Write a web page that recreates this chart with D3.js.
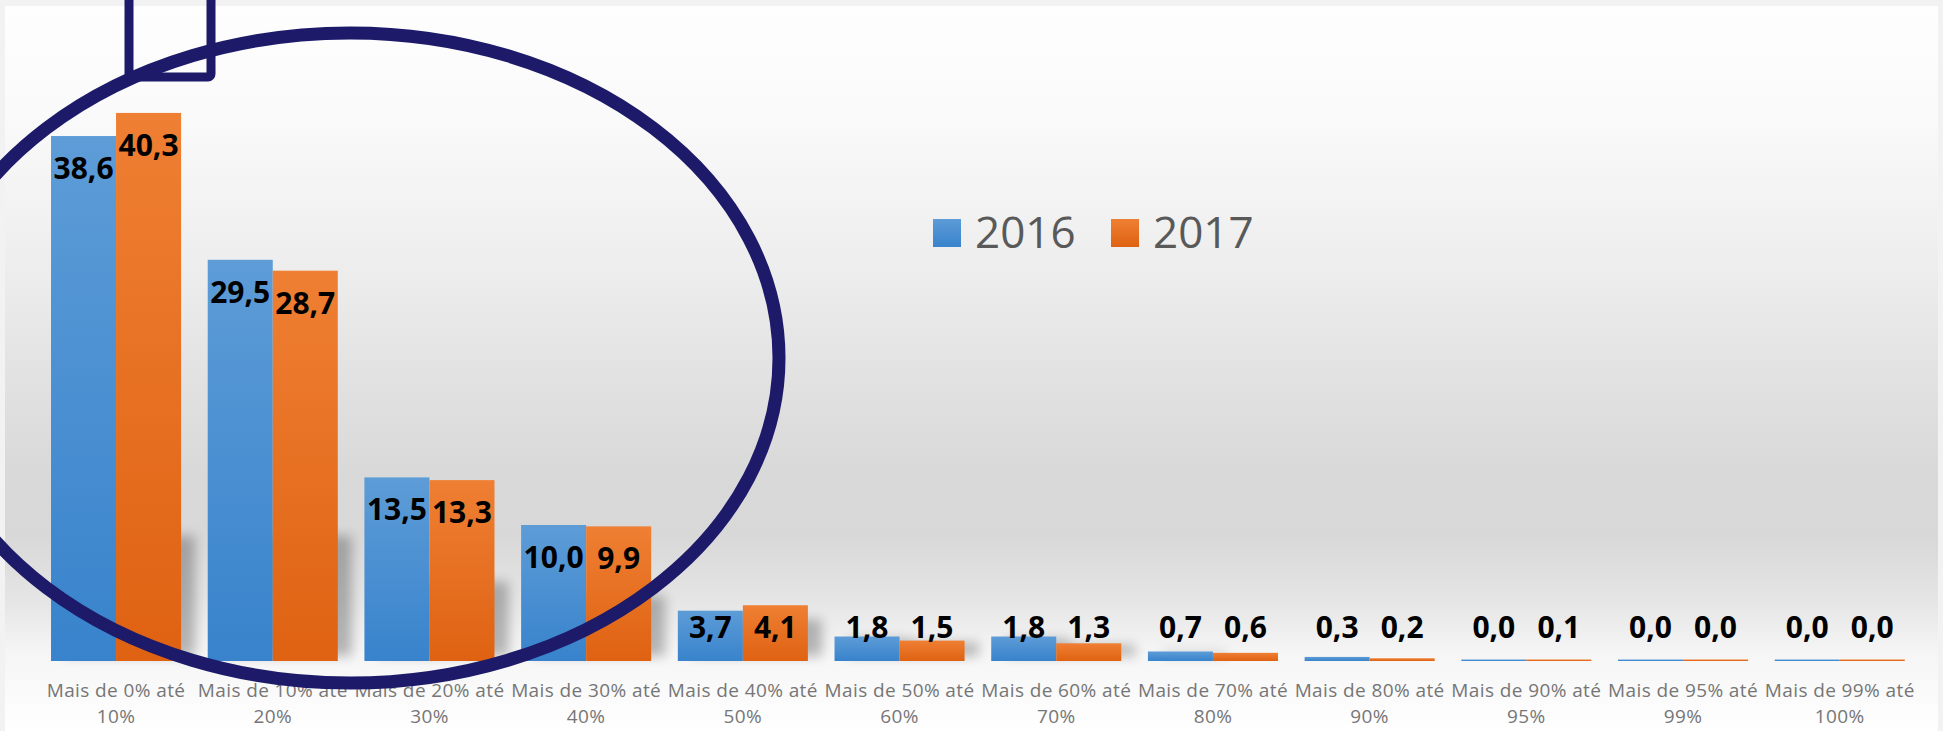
<!DOCTYPE html>
<html lang="pt">
<head>
<meta charset="utf-8">
<script src="https://cdn.jsdelivr.net/npm/d3@7"></script>
<style>
  html, body { margin: 0; padding: 0; background: #f2f2f2; }
  svg { display: block; }
</style>
</head>
<body>
<svg id="chart" width="1943" height="731"></svg>
<script>
// Faixas de comprometimento (linhas em duas partes)
const categories = [
  ["Mais de 0% até", "10%"],
  ["Mais de 10% até", "20%"],
  ["Mais de 20% até", "30%"],
  ["Mais de 30% até", "40%"],
  ["Mais de 40% até", "50%"],
  ["Mais de 50% até", "60%"],
  ["Mais de 60% até", "70%"],
  ["Mais de 70% até", "80%"],
  ["Mais de 80% até", "90%"],
  ["Mais de 90% até", "95%"],
  ["Mais de 95% até", "99%"],
  ["Mais de 99% até", "100%"]
];
const seriesNames = ["2016", "2017"];
const values2016 = [38.6, 29.5, 13.5, 10.0, 3.7, 1.8, 1.8, 0.7, 0.3, 0.0, 0.0, 0.0];
const values2017 = [40.3, 28.7, 13.3, 9.9, 4.1, 1.5, 1.3, 0.6, 0.2, 0.1, 0.0, 0.0];

const W = 1943, H = 731;
const svg = d3.select("#chart");
const defs = svg.append("defs");

// Fundo em degradê vertical
const bg = defs.append("linearGradient").attr("id", "bg").attr("x1", 0).attr("y1", 0).attr("x2", 0).attr("y2", 1);
[[0, "#fefefe"], [0.15, "#fafafa"], [0.38, "#ececec"], [0.51, "#e2e2e2"], [0.64, "#d9d9d9"],
 [0.73, "#d8d8d8"], [0.82, "#e5e5e5"], [0.89, "#f5f5f5"], [1, "#ffffff"]]
  .forEach(([o, c]) => bg.append("stop").attr("offset", o).attr("stop-color", c));

const fills = {
  "2016": ["#5d9cd7", "#3883cc"],
  "2017": ["#ef7f33", "#df6212"]
};
seriesNames.forEach(s => {
  const g = defs.append("linearGradient").attr("id", "g" + s).attr("x1", 0).attr("y1", 0).attr("x2", 0).attr("y2", 1);
  g.append("stop").attr("offset", 0).attr("stop-color", fills[s][0]);
  g.append("stop").attr("offset", 1).attr("stop-color", fills[s][1]);
});

defs.append("filter").attr("id", "soft").attr("x", "-50%").attr("y", "-50%").attr("width", "200%").attr("height", "200%")
  .append("feGaussianBlur").attr("stdDeviation", 6);

svg.append("rect").attr("x", 5).attr("y", 6).attr("width", W - 10).attr("height", H - 6).attr("fill", "url(#bg)");

// Escalas
const x0 = d3.scaleBand()
  .domain(d3.range(categories.length))
  .range([37.7, 1918.1])
  .paddingInner(0.17)
  .paddingOuter(0.085);
const x1 = d3.scaleBand().domain(seriesNames).range([0, x0.bandwidth()]);
const y = d3.scaleLinear().domain([0, 45]).range([661, 661 - 13.6 * 45]);

const rows = categories.map((c, i) => ({
  i,
  bars: [
    { s: "2016", v: values2016[i] },
    { s: "2017", v: values2017[i] }
  ]
}));

// Sombras suaves projetadas à direita de cada barra
const shadowLayer = svg.append("g").attr("filter", "url(#soft)").attr("opacity", 0.26);
rows.forEach(r => {
  r.bars.forEach(b => {
    const xa = x0(r.i) + x1(b.s);
    const h = y(0) - y(b.v);
    const sh = Math.min(0.9 * h, 0.3 * h + 25, 125);
    if (sh < 8) return;
    shadowLayer.append("rect")
      .attr("x", xa + 14)
      .attr("y", y(0) - sh)
      .attr("width", x1.bandwidth())
      .attr("height", sh - 5)
      .attr("fill", "#000");
  });
});

// Barras
const groups = svg.append("g").selectAll("g").data(rows).join("g")
  .attr("transform", d => `translate(${x0(d.i)},0)`);

groups.selectAll("rect").data(d => d.bars).join("rect")
  .attr("x", d => x1(d.s))
  .attr("width", x1.bandwidth())
  .attr("y", d => Math.min(y(d.v), y(0) - 1.5))
  .attr("height", d => Math.max(y(0) - y(d.v), 1.5))
  .attr("fill", d => `url(#g${d.s})`);

// Rótulos de valor
const fmt = v => d3.format(".1f")(v).replace(".", ",");
groups.selectAll("text.val").data(d => d.bars).join("text")
  .attr("class", "val")
  .attr("x", d => x1(d.s) + x1.bandwidth() / 2)
  .attr("y", d => Math.min(y(d.v) + 43, 638))
  .attr("text-anchor", "middle")
  .attr("font-family", "'Open Sans', sans-serif")
  .attr("font-weight", 700)
  .attr("font-size", 30)
  .attr("fill", "#000")
  .text(d => fmt(d.v));

// Eixo de categorias (sem linha nem marcas)
const axis = svg.append("g");
rows.forEach(r => {
  const cx = x0(r.i) + x0.bandwidth() / 2;
  const t = axis.append("text")
    .attr("x", cx)
    .attr("y", 697)
    .attr("text-anchor", "middle")
    .attr("font-family", "'Open Sans', sans-serif")
    .attr("font-size", 19)
    .attr("letter-spacing", 0.4)
    .attr("fill", "#767676");
  categories[r.i].forEach((line, k) => {
    t.append("tspan").attr("x", cx).attr("y", 697 + k * 26).text(line);
  });
});

// Legenda
const legendPos = [{ s: "2016", x: 933 }, { s: "2017", x: 1111 }];
const legend = svg.append("g");
legendPos.forEach(p => {
  legend.append("rect").attr("x", p.x).attr("y", 219).attr("width", 28).attr("height", 28)
    .attr("fill", `url(#g${p.s})`);
  legend.append("text").attr("x", p.x + 42).attr("y", 248)
    .attr("font-family", "'Open Sans', sans-serif")
    .attr("font-size", 44)
    .attr("fill", "#595959")
    .text(p.s);
});

// Destaque: elipse e retângulo desenhados à mão
const navy = "#1d1b69";
svg.append("ellipse")
  .attr("cx", 350).attr("cy", 358).attr("rx", 429).attr("ry", 325)
  .attr("fill", "none").attr("stroke", navy).attr("stroke-width", 13);
svg.append("rect")
  .attr("x", 129).attr("y", -12).attr("width", 82).attr("height", 89).attr("rx", 3)
  .attr("fill", "none").attr("stroke", navy).attr("stroke-width", 9);
</script>
</body>
</html>
